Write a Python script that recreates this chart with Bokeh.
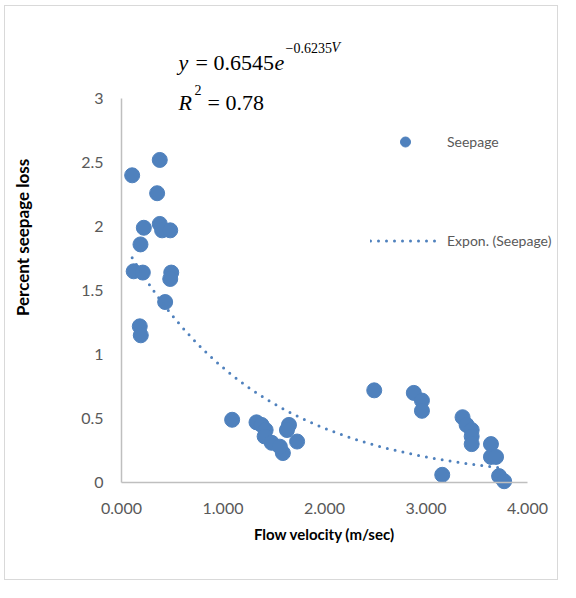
import numpy as np
from bokeh.plotting import figure
from bokeh.models import Label, FixedTicker, Range1d, Legend, LegendItem
from bokeh.embed import file_html
from bokeh.resources import INLINE

# ---- data ----
velocity = [0.105, 0.377, 0.351, 0.377, 0.40, 0.48, 0.22, 0.187, 0.12, 0.21, 0.49, 0.48, 0.43, 0.18, 0.19,
            1.09, 1.33, 1.38, 1.42, 1.41, 1.48, 1.59, 1.56, 1.65, 1.63, 1.73,
            2.49, 2.88, 2.96, 2.96, 3.16, 3.36, 3.40, 3.45, 3.45, 3.45, 3.64, 3.64, 3.69, 3.72, 3.77]
seepage = [2.40, 2.52, 2.26, 2.02, 1.97, 1.97, 1.99, 1.86, 1.65, 1.64, 1.64, 1.59, 1.41, 1.22, 1.15,
           0.49, 0.47, 0.45, 0.41, 0.36, 0.31, 0.23, 0.28, 0.45, 0.41, 0.32,
           0.72, 0.70, 0.64, 0.56, 0.06, 0.51, 0.45, 0.41, 0.36, 0.30, 0.30, 0.20, 0.20, 0.05, 0.01]
x_ticks = [0, 1, 2, 3, 4]
x_tick_labels = ["0.000", "1.000", "2.000", "3.000", "4.000"]
y_ticks = [0, 0.5, 1, 1.5, 2, 2.5, 3]
y_tick_labels = ["0", "0.5", "1", "1.5", "2", "2.5", "3"]
# exponential trendline as drawn (coef * exp(rate * V))
trend_coef = 1.90
trend_rate = -0.75

BLUE = "#4F81BD"

# geometry in picture pixels: canvas origin and size, axis placement
OX, OY, W, H = 5, 6, 554, 575
X0PX, XPX_PER = 121, 101.5      # pixel of V=0 and pixels per unit
Y0PX, YPX_PER = 482, 128        # pixel of seepage=0 and pixels per unit


def dx(px):
    return (px - X0PX) / XPX_PER


def dy(py):
    return (Y0PX - py) / YPX_PER


p = figure(width=W, height=H, output_backend="svg", toolbar_location=None, title=None,
           x_range=Range1d(dx(OX), dx(OX + W)), y_range=Range1d(dy(OY + H), dy(OY)),
           min_border=0, margin=(5, 0, 0, 4), styles={"border": "1px solid #d9d9d9"})
p.xgrid.visible = False
p.ygrid.visible = False
p.outline_line_color = None
p.background_fill_color = "white"
p.border_fill_color = "white"

r1 = p.scatter(velocity, seepage, size=15, fill_color=BLUE, line_color=BLUE)
tx = np.linspace(min(velocity), max(velocity), 300)
ty = trend_coef * np.exp(trend_rate * tx)
r2 = p.line(tx, ty, line_color=BLUE, line_width=3, line_dash="0 8", line_cap="round")

for ax in (p.xaxis[0], p.yaxis[0]):
    ax.fixed_location = 0
    ax.axis_line_color = "#bfbfbf"
    ax.axis_line_width = 1.5
    ax.major_tick_line_color = None
    ax.minor_tick_line_color = None
    ax.major_tick_out = 0
    ax.major_tick_in = 0
    ax.minor_tick_out = 0
    ax.minor_tick_in = 0
    ax.major_label_text_font = "Lato"
    ax.major_label_text_font_size = "16px"
    ax.major_label_text_color = "#595959"

p.xaxis.ticker = FixedTicker(ticks=x_ticks)
p.xaxis.bounds = (x_ticks[0], x_ticks[-1])
p.xaxis.major_label_overrides = {t: l for t, l in zip(x_ticks, x_tick_labels)}
p.xaxis.major_label_standoff = 20
p.yaxis.ticker = FixedTicker(ticks=y_ticks)
p.yaxis.bounds = (y_ticks[0], y_ticks[-1])
p.yaxis.major_label_overrides = {t: l for t, l in zip(y_ticks, y_tick_labels)}
p.yaxis.major_label_standoff = 18

# legend: box bottom-left relative to the frame's bottom-left
legend = Legend(items=[LegendItem(label="Seepage", renderers=[r1]),
                       LegendItem(label="Expon. (Seepage)", renderers=[r2])],
                location=(370 - OX, (OY + H) - 253), glyph_width=70, glyph_height=25, spacing=74,
                padding=0, margin=0, border_line_color=None, background_fill_alpha=0,
                label_standoff=7, label_text_font="Lato", label_text_font_size="14px",
                label_text_color="#595959")
p.add_layout(legend)


def lab(text, px, py, size, style="normal", font="Liberation Serif", color="black",
        align="left", baseline="alphabetic", angle=0):
    p.add_layout(Label(x=dx(px), y=dy(py), text=text, text_font=font, text_font_size=size,
                       text_font_style=style, text_color=color, text_align=align,
                       text_baseline=baseline, angle=angle))


# equation and R^2
lab("y", 178, 62, "22px", "italic")
lab("= 0.6545", 195, 62, "22px")
lab("e", 274, 62, "22px", "italic")
lab("\u22120.6235", 285, 47, "14px")
lab("V", 331, 47, "14px", "italic")
lab("R", 178, 102, "22px", "italic")
lab("2", 194, 89, "14px")
lab("= 0.78", 207, 102, "22px")

# axis titles
lab("Flow velocity (m/sec)", 324, 533, "15px", "bold", "Lato", "black", "center", "middle")
lab("Percent seepage loss", 22, 237, "17px", "bold", "Lato", "black", "center", "middle", np.pi / 2)

open("out.html", "w").write(file_html(p, INLINE))
